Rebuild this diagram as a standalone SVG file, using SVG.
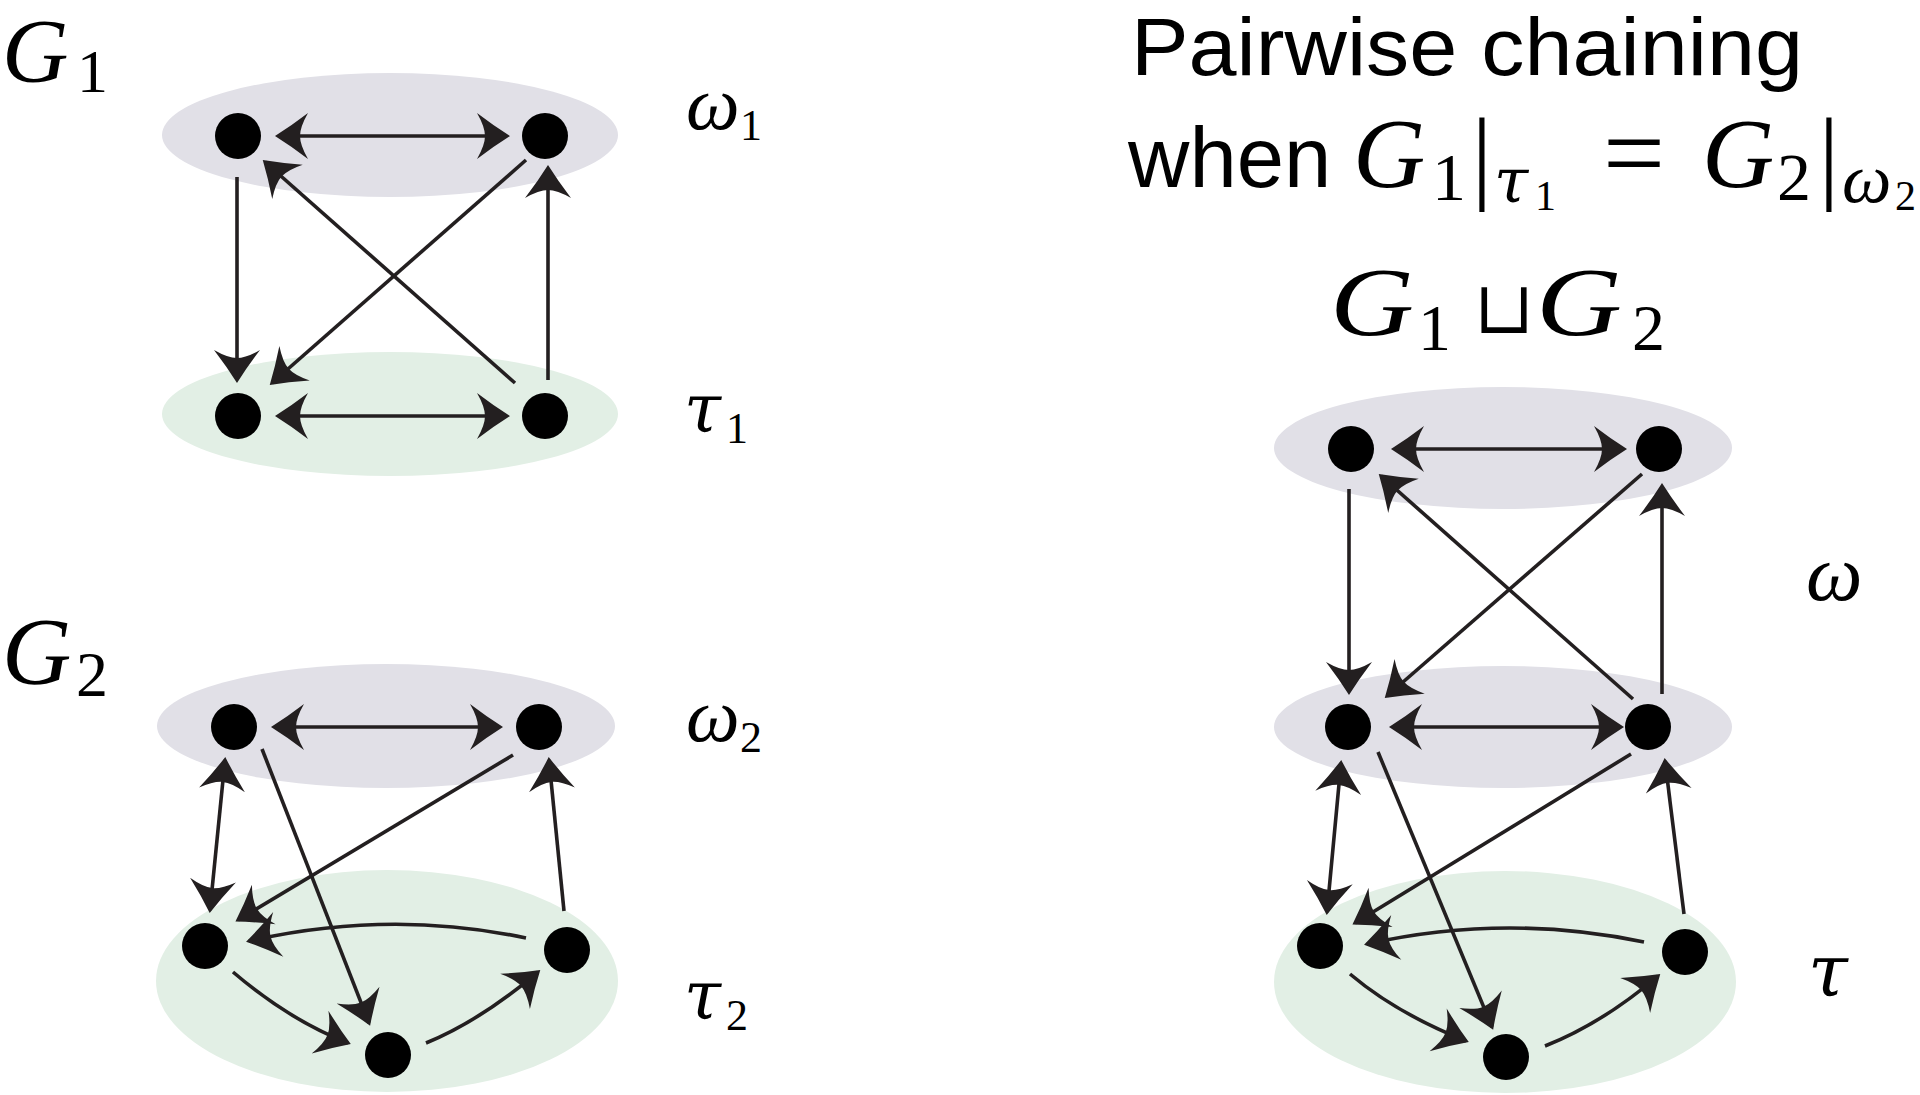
<svg xmlns="http://www.w3.org/2000/svg" width="1920" height="1095" viewBox="0 0 1920 1095">
<style>
.bg{fill:#ffffff}
.om{fill:#e1e0e7}
.ta{fill:#e2efe5}
.nd{fill:#000000}
.e{fill:none;stroke:#231f20;stroke-width:3.6;marker-end:url(#ah)}
.d{fill:none;stroke:#231f20;stroke-width:3.6;marker-end:url(#ah);marker-start:url(#ahs)}
.mi{font-family:"Liberation Serif","Times New Roman",serif;font-style:italic;fill:#000}
.gk{font-family:"DejaVu Serif","Liberation Serif",serif;font-style:italic;fill:#000}
.mr{font-family:"Liberation Serif","Times New Roman",serif;fill:#000}
.sy{font-family:"DejaVu Serif","Liberation Serif",serif;fill:#000}
.tx{font-family:"Liberation Sans",Arial,sans-serif;fill:#000}
</style>
<defs>
<marker id="ah" markerUnits="userSpaceOnUse" viewBox="-33 -25 38 50" refX="0" refY="0" markerWidth="38" markerHeight="50" orient="auto">
<path d="M3,0 Q-13,-10 -30,-23 Q-22,-9 -22,0 Q-22,9 -30,23 Q-13,10 3,0 Z" fill="#231f20"/>
</marker>
<marker id="ahs" markerUnits="userSpaceOnUse" viewBox="-33 -25 38 50" refX="0" refY="0" markerWidth="38" markerHeight="50" orient="auto-start-reverse">
<path d="M3,0 Q-13,-10 -30,-23 Q-22,-9 -22,0 Q-22,9 -30,23 Q-13,10 3,0 Z" fill="#231f20"/>
</marker>
</defs>
<rect class="bg" x="0" y="0" width="1920" height="1095"/>

<!-- G1 panel -->
<g id="g1-omega1-set"><ellipse class="om" cx="390" cy="135" rx="228" ry="62"/></g>
<g id="g1-tau1-set"><ellipse class="ta" cx="390" cy="414" rx="228" ry="62"/></g>
<!-- G2 panel -->
<g id="g2-omega2-set"><ellipse class="om" cx="386" cy="726" rx="229" ry="62"/></g>
<g id="g2-tau2-set"><ellipse class="ta" cx="387" cy="981" rx="231" ry="111"/></g>
<!-- chained panel -->
<g id="c-omega-top-set"><ellipse class="om" cx="1503" cy="448" rx="229" ry="61"/></g>
<g id="c-omega-mid-set"><ellipse class="om" cx="1503" cy="727" rx="229" ry="61"/></g>
<g id="c-tau-set"><ellipse class="ta" cx="1505" cy="982" rx="231" ry="111"/></g>

<g id="connectors">
<!-- G1 -->
<path class="d" d="M278,136 L507,136"/>
<path class="d" d="M278,416 L507,416"/>
<path class="e" d="M237,177 L237,380"/>
<path class="e" d="M548,380 L548,168"/>
<path class="e" d="M515,383 L265,162"/>
<path class="e" d="M526,160 L272,383"/>
<!-- G2 -->
<path class="d" d="M274,727 L500,727"/>
<path class="d" d="M225,760 L210,910"/>
<path class="e" d="M262,749 L369,1023"/>
<path class="e" d="M513,755 L238,920"/>
<path class="e" d="M564,911 L549,760"/>
<path class="e" d="M526,938 Q390,909 249,941"/>
<path class="e" d="M233,972 Q289,1020 348,1043"/>
<path class="e" d="M426,1043 Q480,1021 538,972"/>
<!-- chained -->
<path class="d" d="M1394,449 L1624,449"/>
<path class="d" d="M1392,727 L1621,727"/>
<path class="e" d="M1349,489 L1349,692"/>
<path class="e" d="M1662,694 L1662,486"/>
<path class="e" d="M1633,699 L1381,476"/>
<path class="e" d="M1642,474 L1387,696"/>
<path class="d" d="M1341,763 L1327,912"/>
<path class="e" d="M1378,752 L1492,1027"/>
<path class="e" d="M1631,754 L1355,923"/>
<path class="e" d="M1684,914 L1665,761"/>
<path class="e" d="M1644,942 Q1505,913 1367,944"/>
<path class="e" d="M1350,974 Q1396,1013 1466,1041"/>
<path class="e" d="M1545,1046 Q1603,1023 1658,976"/>
</g>

<!-- nodes -->
<g id="g1-w1a"><circle class="nd" cx="238" cy="136" r="23"/></g>
<g id="g1-w1b"><circle class="nd" cx="545" cy="136" r="23"/></g>
<g id="g1-t1a"><circle class="nd" cx="238" cy="416" r="23"/></g>
<g id="g1-t1b"><circle class="nd" cx="545" cy="416" r="23"/></g>

<g id="g2-w2a"><circle class="nd" cx="234" cy="727" r="23"/></g>
<g id="g2-w2b"><circle class="nd" cx="539" cy="727" r="23"/></g>
<g id="g2-t2a"><circle class="nd" cx="205" cy="946" r="23"/></g>
<g id="g2-t2b"><circle class="nd" cx="567" cy="950" r="23"/></g>
<g id="g2-t2c"><circle class="nd" cx="388" cy="1055" r="23"/></g>

<g id="c-wa"><circle class="nd" cx="1351" cy="449" r="23"/></g>
<g id="c-wb"><circle class="nd" cx="1659" cy="449" r="23"/></g>
<g id="c-ma"><circle class="nd" cx="1348" cy="727" r="23"/></g>
<g id="c-mb"><circle class="nd" cx="1648" cy="727" r="23"/></g>
<g id="c-ta"><circle class="nd" cx="1320" cy="946" r="23"/></g>
<g id="c-tb"><circle class="nd" cx="1685" cy="952" r="23"/></g>
<g id="c-tc"><circle class="nd" cx="1506" cy="1057" r="23"/></g>

<!-- labels -->
<g id="label-G1"><text class="mi" x="2" y="82" font-size="92">G</text><text class="mr" x="77" y="92" font-size="62">1</text></g>
<g id="label-G2"><text class="mi" x="2" y="684" font-size="96">G</text><text class="mr" x="76" y="696" font-size="64">2</text></g>
<g id="label-w1"><text class="mi" x="686" y="129" font-size="76">ω</text><text class="mr" x="740" y="140" font-size="44">1</text></g>
<g id="label-t1"><text class="gk" x="684" y="432" font-size="67">τ</text><text class="mr" x="726" y="443" font-size="44">1</text></g>
<g id="label-w2"><text class="mi" x="686" y="741" font-size="76">ω</text><text class="mr" x="740" y="752" font-size="44">2</text></g>
<g id="label-t2"><text class="gk" x="684" y="1019" font-size="67">τ</text><text class="mr" x="726" y="1030" font-size="44">2</text></g>
<g id="label-w"><text class="mi" x="1806" y="600" font-size="80">ω</text></g>
<g id="label-t"><text class="gk" x="1808" y="996" font-size="72">τ</text></g>

<g id="title">
<text class="tx" x="1131" y="75" font-size="82" textLength="672" lengthAdjust="spacingAndGlyphs">Pairwise chaining</text>
<text class="tx" x="1128" y="187" font-size="85">when</text>
<text class="mi" x="1353" y="187" font-size="100">G</text>
<text class="mr" x="1432" y="200" font-size="68">1</text>
<text class="mr" x="1482" y="190" font-size="104" text-anchor="middle">|</text>
<text class="gk" x="1494" y="202" font-size="62">τ</text>
<text class="mr" x="1535" y="210" font-size="42">1</text>
<text class="mr" x="1603" y="190" font-size="110">=</text>
<text class="mi" x="1702" y="187" font-size="100">G</text>
<text class="mr" x="1777" y="200" font-size="68">2</text>
<text class="mr" x="1829" y="190" font-size="104" text-anchor="middle">|</text>
<text class="mi" x="1842" y="202" font-size="70">ω</text>
<text class="mr" x="1895" y="210" font-size="42">2</text>
</g>
<g id="union-label">
<text class="mi" x="1330" y="335" font-size="97" textLength="84" lengthAdjust="spacingAndGlyphs">G</text>
<text class="mr" x="1418" y="350" font-size="66">1</text>
<text class="sy" x="1474" y="333" font-size="72">⊔</text>
<text class="mi" x="1536" y="335" font-size="97" textLength="86" lengthAdjust="spacingAndGlyphs">G</text>
<text class="mr" x="1632" y="350" font-size="66">2</text>
</g>
</svg>
